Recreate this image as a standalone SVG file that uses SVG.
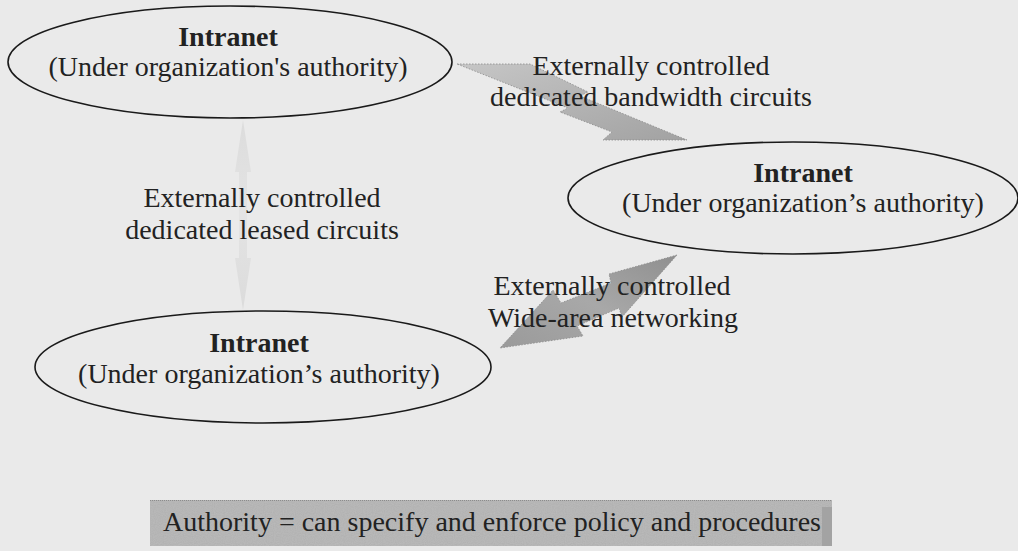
<svg xmlns="http://www.w3.org/2000/svg" width="1018" height="551" viewBox="0 0 1018 551">
  <defs>
    <style>
      .ell { fill: none; stroke: #1a1a1a; stroke-width: 1.6; }
      .t { font-family: "Liberation Serif", "Times New Roman", serif; font-size: 28px; fill: #222222; text-anchor: middle; }
      .b { font-weight: bold; }
      .arrow { stroke: #8a8a8a; stroke-width: 0.8; stroke-dasharray: 1.5 1.5; }
    </style>
    <linearGradient id="gBand" x1="0" y1="0" x2="1" y2="1">
      <stop offset="0" stop-color="#c6c6c6"/>
      <stop offset="1" stop-color="#a2a2a2"/>
    </linearGradient>
    <linearGradient id="gWan" x1="0" y1="1" x2="1" y2="0">
      <stop offset="0" stop-color="#9a9a9a"/>
      <stop offset="0.5" stop-color="#a8a8a8"/>
      <stop offset="1" stop-color="#8f8f8f"/>
    </linearGradient>
    <linearGradient id="gLease" x1="0" y1="0" x2="0" y2="1">
      <stop offset="0" stop-color="#dcdcdc"/>
      <stop offset="0.5" stop-color="#e4e4e4"/>
      <stop offset="1" stop-color="#dbdbdb"/>
    </linearGradient>
    <filter id="grain" x="0" y="0" width="100%" height="100%">
      <feTurbulence type="fractalNoise" baseFrequency="0.9" numOctaves="1" seed="3" result="n"/>
      <feColorMatrix in="n" type="saturate" values="0" result="g"/>
      <feComponentTransfer in="g" result="g2">
        <feFuncA type="linear" slope="0" intercept="0.18"/>
      </feComponentTransfer>
      <feComposite in="g2" in2="SourceGraphic" operator="in" result="m"/>
      <feBlend in="SourceGraphic" in2="m" mode="multiply"/>
    </filter>
  </defs>

  <rect x="0" y="0" width="1018" height="551" fill="#eaeaea"/>

  <g id="connectors">
    <polygon id="c-leased" points="243,120 251,172 247,172 247,258 251,258 243,310 235,258 239,258 239,172 235,172" fill="url(#gLease)"/>
    <polygon id="c-bandwidth" class="arrow" points="457,64 530,64 588,92 580,96 687,140 603,140 612,132 560,112 568,108" fill="url(#gBand)"/>
    <polygon id="c-wan" class="arrow" points="677,255 609,274 611,283 561,303 553,290 500,348 583,336 577,326 619,308 622,317" fill="url(#gWan)"/>
  </g>

  <g id="node-intranet-1">
    <ellipse class="ell" cx="230" cy="62" rx="222" ry="56"/>
    <text class="t b" x="228" y="46">Intranet</text>
    <text class="t" x="228" y="76">(Under organization's authority)</text>
  </g>

  <g id="node-intranet-2">
    <ellipse class="ell" cx="793" cy="198" rx="225" ry="56"/>
    <text class="t b" x="803" y="182">Intranet</text>
    <text class="t" x="803" y="212">(Under organization’s authority)</text>
  </g>

  <g id="node-intranet-3">
    <ellipse class="ell" cx="263" cy="367" rx="228" ry="56"/>
    <text class="t b" x="259" y="352">Intranet</text>
    <text class="t" x="259" y="383">(Under organization’s authority)</text>
  </g>

  <g id="labels">
    <text class="t" x="651" y="75">Externally controlled</text>
    <text class="t" x="651" y="106">dedicated bandwidth circuits</text>
    <text class="t" x="262" y="207">Externally controlled</text>
    <text class="t" x="262" y="239">dedicated leased circuits</text>
    <text class="t" x="612" y="295">Externally controlled</text>
    <text class="t" x="613" y="327">Wide-area networking</text>
  </g>

  <g id="note">
    <rect x="150" y="500" width="682" height="46" fill="#bdbdbd" filter="url(#grain)"/>
    <line x1="150" y1="500.5" x2="832" y2="500.5" stroke="#8c8c8c" stroke-width="1" stroke-dasharray="1 1"/>
    <rect x="822" y="507" width="10" height="39" fill="#a3a3a3"/>
    <text class="t" x="492" y="531">Authority = can specify and enforce policy and procedures</text>
  </g>
</svg>
